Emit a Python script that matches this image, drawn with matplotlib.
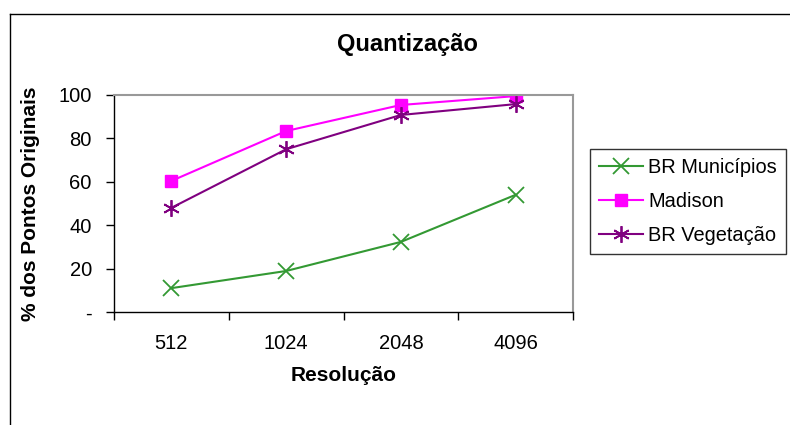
import matplotlib.pyplot as plt
from matplotlib.lines import Line2D

plt.rcParams['font.family'] = ['Liberation Sans', 'DejaVu Sans']

resolucao = ['512', '1024', '2048', '4096']
br_municipios = [11, 18.9, 32.3, 54]
madison = [60.4, 83.4, 95.4, 99.5]
br_vegetacao = [48, 75, 90.8, 95.8]
y_ticks = [0, 20, 40, 60, 80, 100]
y_labels = ['-', '20', '40', '60', '80', '100']


def main():
    fig = plt.figure(figsize=(7.9, 4.25), dpi=100)
    ax = fig.add_axes([114 / 790, 1 - 312 / 425, 459 / 790, 217 / 425])

    x = range(len(resolucao))
    ax.plot(x, br_municipios, color='#339933', marker='x', markersize=11,
            markeredgewidth=1.3, linewidth=1.5, label='BR Municípios')
    ax.plot(x, madison, color='#FF00FF', marker='s', markersize=8,
            linewidth=1.5, label='Madison')
    ax.plot(x, br_vegetacao, color='#800080', marker=(6, 2, 0), markersize=12,
            markeredgewidth=1.3, linewidth=1.5, label='BR Vegetação')

    ax.set_xlim(-0.5, len(resolucao) - 0.5)
    ax.set_ylim(0, 100)
    ax.set_yticks(y_ticks)
    ax.set_yticklabels(y_labels, fontsize=14.5)
    ax.set_xticks(list(x))
    ax.set_xticklabels(resolucao, fontsize=14.5)
    ax.set_xticks([i - 0.5 for i in range(len(resolucao) + 1)], minor=True)
    ax.tick_params(axis='x', which='major', length=0, pad=16)
    ax.tick_params(axis='x', which='minor', length=6, width=1, direction='out')
    ax.tick_params(axis='y', length=6, width=1, direction='out', pad=10)

    for side in ['top', 'right']:
        ax.spines[side].set_color('#999999')
        ax.spines[side].set_linewidth(1.5)
    for side in ['left', 'bottom']:
        ax.spines[side].set_color('black')
        ax.spines[side].set_linewidth(1)

    fig.text(407 / 790, 1 - 45 / 425, 'Quantização', fontsize=17,
             fontweight='bold', ha='center', va='center')
    ax.set_xlabel('Resolução', fontsize=15, fontweight='bold', labelpad=9)
    ax.set_ylabel('% dos Pontos Originais', fontsize=15, fontweight='bold',
                  labelpad=13)

    leg = fig.legend(loc='upper left', bbox_to_anchor=(590 / 790, 1 - 149 / 425),
                     fontsize=14.4, frameon=True, fancybox=False,
                     edgecolor='black', handlelength=2.2, handletextpad=0.25,
                     borderpad=0.45, labelspacing=0.75, borderaxespad=0)
    leg.get_frame().set_linewidth(1)

    # outer chart border
    fig.add_artist(Line2D([10 / 790, 10 / 790], [0, 1 - 14 / 425],
                          color='black', linewidth=1, transform=fig.transFigure))
    fig.add_artist(Line2D([10 / 790, 1], [1 - 14 / 425, 1 - 14 / 425],
                          color='black', linewidth=1, transform=fig.transFigure))

    fig.savefig('out.png', dpi=100)


if __name__ == "__main__":
    main()
